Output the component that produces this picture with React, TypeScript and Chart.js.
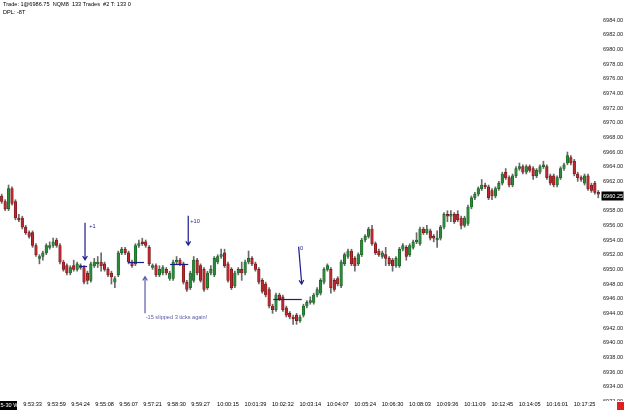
import React, { useEffect, useRef } from 'react';
import { Chart, registerables } from 'chart.js';

Chart.register(...registerables);

// ---- candle data (133-tick bars, NQM8) ----
const opens = [
  6960.0, 6959.25, 6958.25, 6961.0, 6959.25, 6957.0, 6957.0, 6955.75, 6955.0, 6955.0,
  6953.25, 6951.5, 6951.75, 6952.25, 6953.0, 6953.25, 6954.0, 6953.25, 6951.0, 6950.5,
  6949.5, 6950.5, 6950.0, 6950.5, 6950.25, 6949.5, 6948.5, 6950.5, 6950.75, 6951.0,
  6950.75, 6950.0, 6949.5, 6948.25, 6949.25, 6952.25, 6952.75, 6952.25, 6951.0, 6950.75,
  6953.25, 6953.75, 6953.75, 6953.0, 6950.25, 6950.5, 6949.25, 6949.5, 6950.0, 6948.75,
  6948.75, 6951.0, 6951.25, 6950.75, 6948.25, 6947.5, 6948.5, 6951.25, 6950.5, 6950.0,
  6947.5, 6949.5, 6949.25, 6951.0, 6951.75, 6952.25, 6950.75, 6950.0, 6947.75, 6949.5,
  6950.0, 6949.5, 6951.0, 6951.5, 6950.75, 6950.0, 6948.5, 6948.0, 6947.25, 6945.0,
  6944.5, 6946.5, 6946.25, 6944.75, 6944.0, 6943.5, 6943.75, 6943.0, 6943.75, 6945.0,
  6945.5, 6945.5, 6946.5, 6946.75, 6948.25, 6950.0, 6950.0, 6948.5, 6948.75, 6947.75,
  6950.75, 6951.75, 6952.5, 6951.5, 6950.75, 6952.0, 6954.0, 6954.5, 6955.5, 6953.5,
  6952.5, 6951.75, 6952.0, 6951.5, 6951.25, 6950.5, 6950.5, 6952.75, 6953.0, 6952.0,
  6953.0, 6953.75, 6953.5, 6955.5, 6955.0, 6955.25, 6954.5, 6954.0, 6954.25, 6955.75,
  6957.5, 6957.25, 6957.5, 6957.5, 6957.0, 6956.0, 6956.25, 6958.5, 6959.75, 6960.25,
  6961.0, 6961.5, 6961.25, 6960.75, 6960.0, 6961.0, 6961.75, 6963.25, 6962.5, 6961.5,
  6962.75, 6963.75, 6964.0, 6963.25, 6964.0, 6963.75, 6962.75, 6963.25, 6964.0, 6964.0,
  6962.75, 6962.75, 6961.5, 6962.5, 6963.75, 6964.5, 6965.25, 6964.75, 6963.0, 6962.5,
  6961.75, 6962.75, 6961.5, 6961.75, 6960.5,
];

const highs = [
  6960.25, 6959.5, 6961.5, 6961.25, 6959.5, 6957.5, 6957.25, 6956.0, 6955.25, 6955.25,
  6953.5, 6952.0, 6952.5, 6953.5, 6953.75, 6954.25, 6954.25, 6953.5, 6951.25, 6950.75,
  6950.5, 6951.25, 6951.0, 6950.75, 6950.5, 6949.75, 6951.0, 6951.5, 6951.75, 6952.25,
  6951.0, 6950.25, 6949.75, 6949.0, 6952.5, 6953.0, 6953.0, 6952.5, 6951.25, 6953.5,
  6954.0, 6954.25, 6954.0, 6953.25, 6950.75, 6950.75, 6950.5, 6950.5, 6950.25, 6949.75,
  6951.25, 6951.75, 6951.5, 6951.0, 6948.5, 6949.75, 6951.75, 6951.5, 6950.75, 6950.25,
  6949.75, 6950.5, 6951.75, 6952.0, 6952.75, 6952.75, 6951.0, 6950.25, 6949.75, 6950.25,
  6951.0, 6951.25, 6952.5, 6951.75, 6951.0, 6950.25, 6948.75, 6948.25, 6947.5, 6945.25,
  6946.75, 6946.75, 6946.5, 6945.0, 6944.25, 6943.75, 6944.0, 6943.75, 6945.25, 6945.75,
  6946.25, 6946.75, 6947.5, 6948.75, 6950.25, 6950.75, 6950.25, 6948.75, 6949.0, 6951.25,
  6952.25, 6952.75, 6952.75, 6951.75, 6952.25, 6954.25, 6954.75, 6955.75, 6956.0, 6953.75,
  6952.75, 6952.5, 6953.0, 6951.75, 6951.5, 6951.75, 6953.0, 6953.5, 6953.25, 6953.5,
  6954.0, 6955.0, 6955.75, 6955.75, 6956.0, 6955.5, 6954.75, 6955.25, 6956.0, 6957.75,
  6958.0, 6958.0, 6957.75, 6958.0, 6957.25, 6957.25, 6958.75, 6960.0, 6960.5, 6961.25,
  6962.25, 6961.75, 6961.5, 6961.0, 6961.25, 6962.0, 6963.25, 6963.75, 6962.75, 6963.0,
  6964.0, 6964.5, 6964.25, 6964.25, 6964.25, 6964.0, 6963.75, 6964.25, 6964.75, 6964.25,
  6963.0, 6963.0, 6962.75, 6964.0, 6964.5, 6966.0, 6965.5, 6965.0, 6963.25, 6962.75,
  6963.0, 6963.0, 6961.75, 6962.0, 6960.75,
];

const lows = [
  6959.0, 6958.0, 6958.0, 6958.75, 6956.75, 6956.5, 6955.5, 6954.75, 6954.25, 6953.0,
  6951.75, 6950.75, 6951.25, 6952.0, 6952.75, 6953.0, 6953.0, 6950.75, 6949.75, 6949.25,
  6949.25, 6949.75, 6949.75, 6950.0, 6948.0, 6948.0, 6948.25, 6950.25, 6950.25, 6949.75,
  6949.75, 6949.0, 6948.0, 6947.5, 6949.0, 6952.0, 6952.0, 6950.75, 6950.25, 6950.5,
  6953.0, 6953.25, 6953.0, 6950.5, 6950.0, 6949.0, 6949.0, 6949.25, 6949.25, 6948.5,
  6948.5, 6950.75, 6950.5, 6948.0, 6947.0, 6947.25, 6948.25, 6949.25, 6948.25, 6947.0,
  6947.25, 6949.25, 6949.0, 6950.75, 6951.5, 6950.25, 6948.25, 6947.25, 6947.5, 6949.25,
  6948.5, 6949.25, 6950.75, 6950.5, 6949.75, 6948.0, 6946.75, 6946.25, 6944.75, 6944.0,
  6944.25, 6945.75, 6944.25, 6943.5, 6943.25, 6942.5, 6942.5, 6942.75, 6943.5, 6944.75,
  6945.25, 6945.25, 6946.25, 6946.5, 6948.0, 6949.75, 6946.75, 6947.0, 6947.75, 6947.5,
  6950.5, 6951.5, 6950.5, 6949.75, 6950.5, 6951.75, 6953.75, 6954.25, 6953.25, 6952.0,
  6951.75, 6951.5, 6950.5, 6950.5, 6949.75, 6950.25, 6950.25, 6952.5, 6951.25, 6951.75,
  6952.75, 6953.5, 6953.25, 6954.75, 6954.75, 6954.0, 6953.75, 6953.0, 6954.0, 6955.5,
  6956.5, 6956.5, 6956.25, 6956.5, 6955.5, 6955.75, 6956.0, 6958.25, 6959.5, 6960.0,
  6960.75, 6961.0, 6959.5, 6959.5, 6959.75, 6960.75, 6961.5, 6962.25, 6961.25, 6961.25,
  6962.5, 6963.5, 6963.0, 6963.0, 6963.25, 6962.25, 6962.5, 6963.0, 6963.75, 6962.25,
  6961.5, 6961.25, 6961.25, 6962.25, 6963.5, 6964.25, 6964.25, 6962.75, 6962.0, 6962.0,
  6961.5, 6960.75, 6960.5, 6960.25, 6959.75,
];

const closes = [
  6959.25, 6958.25, 6961.0, 6959.0, 6957.0, 6956.75, 6955.75, 6955.0, 6954.5, 6953.25,
  6952.0, 6951.75, 6952.25, 6953.25, 6953.25, 6953.75, 6953.25, 6951.0, 6950.0, 6949.5,
  6950.25, 6950.0, 6950.75, 6950.25, 6948.25, 6948.5, 6950.75, 6951.0, 6951.0, 6950.5,
  6950.0, 6949.25, 6949.0, 6948.75, 6952.25, 6952.75, 6952.25, 6951.0, 6950.5, 6953.25,
  6953.5, 6953.5, 6953.25, 6950.75, 6950.5, 6949.25, 6950.0, 6950.25, 6949.5, 6949.5,
  6951.0, 6951.25, 6950.75, 6948.25, 6947.25, 6949.5, 6951.25, 6949.5, 6948.5, 6947.25,
  6949.5, 6950.0, 6951.5, 6951.75, 6952.0, 6950.5, 6948.5, 6947.5, 6949.5, 6950.0,
  6949.5, 6951.0, 6951.5, 6950.75, 6950.0, 6948.25, 6947.0, 6946.5, 6945.0, 6944.5,
  6946.5, 6946.0, 6944.5, 6943.75, 6943.5, 6943.25, 6943.0, 6943.5, 6945.0, 6945.5,
  6945.75, 6946.5, 6947.25, 6948.5, 6950.0, 6950.5, 6947.5, 6947.25, 6948.0, 6951.0,
  6952.0, 6952.5, 6950.75, 6950.5, 6952.0, 6954.0, 6954.5, 6955.5, 6953.5, 6952.25,
  6952.0, 6952.25, 6951.5, 6950.75, 6950.5, 6951.5, 6952.75, 6953.25, 6951.75, 6953.25,
  6953.75, 6954.0, 6955.5, 6955.0, 6955.5, 6954.25, 6954.25, 6954.25, 6955.75, 6957.5,
  6957.25, 6957.5, 6956.5, 6956.75, 6956.0, 6957.0, 6958.5, 6959.75, 6960.25, 6961.0,
  6961.5, 6961.25, 6959.75, 6960.0, 6961.0, 6961.75, 6963.0, 6962.5, 6961.5, 6962.75,
  6963.75, 6964.0, 6963.25, 6964.0, 6963.5, 6962.75, 6963.5, 6964.0, 6964.25, 6962.5,
  6961.75, 6961.5, 6962.5, 6963.75, 6964.25, 6965.5, 6964.5, 6963.0, 6962.5, 6962.25,
  6962.75, 6961.0, 6960.75, 6960.5, 6960.25,
];

// ---- axis tick labels ----
const timeTickIndex = [9, 16, 23, 30, 37, 44, 51, 58, 66, 74, 82, 90, 98, 106, 114, 122, 130, 138, 146, 154, 162, 170];
const timeTickLabels = [
  '9:53:33', '9:53:59', '9:54:24', '9:55:08', '9:56:07', '9:57:21', '9:58:30', '9:59:27',
  '10:00:15', '10:01:39', '10:02:32', '10:03:14', '10:04:07', '10:05:24', '10:06:30', '10:08:03',
  '10:09:36', '10:11:09', '10:12:45', '10:14:05', '10:16:01', '10:17:25',
];
const priceTicks = [
  6934, 6936, 6938, 6940, 6942, 6944, 6946, 6948, 6950, 6952, 6954, 6956, 6958,
  6960, 6962, 6964, 6966, 6968, 6970, 6972, 6974, 6976, 6978, 6980, 6982, 6984,
];
const hiddenEdgeTick = 6932;
const lastPrice = 6960.25;
const headerLines = ['Trade: 1@6986.75  NQM8  133 Trades  #2 T: 133 0', 'DPL: -8T'];
const dateLabel = '5-30 We';

// ---- trade annotations (bar index, price) ----
const tradeArrows = [
  { x0: 24.3, p0: 6956.35, x1: 24.3, p1: 6951.3, text: '+1', tx: 25.5, tp: 6955.8, light: false },
  { x0: 41.8, p0: 6944.0, x1: 41.8, p1: 6949.0, text: '-15 slipped 3 ticks again!', tx: 42.0, tp: 6943.4, light: true },
  { x0: 54.4, p0: 6957.3, x1: 54.4, p1: 6953.3, text: '+10', tx: 55.0, tp: 6956.6, light: false },
  { x0: 86.6, p0: 6953.1, x1: 87.5, p1: 6948.0, text: '0', tx: 87.0, tp: 6952.8, light: false },
];
const entryLines = [
  { x0: 22.8, x1: 24.9, p: 6950.5 },
  { x0: 36.9, x1: 41.5, p: 6951.0 },
  { x0: 49.1, x1: 54.4, p: 6950.7 },
  { x0: 79.2, x1: 87.5, p: 6945.95 },
];

const FONT = '"Liberation Sans", Arial, sans-serif';
const FS = 5.6;
const UP = '#2b8a3a';
const UP_BORDER = '#145a1f';
const DOWN = '#b8282c';
const DOWN_BORDER = '#6a1216';
const WICK = '#6a6a6a';
const NAVY = '#1c1c8c';
const NAVY_LIGHT = '#5a5aa8';

const overlayPlugin = {
  id: 'tradeOverlay',
  afterDatasetsDraw(chart: any) {
    const { ctx, scales } = chart;
    const x = scales.x;
    const y = scales.y;
    ctx.save();
    ctx.lineWidth = 1.2;
    ctx.strokeStyle = NAVY;
    entryLines.forEach((l) => {
      const yy = Math.round(y.getPixelForValue(l.p)) + 0.5;
      ctx.beginPath();
      ctx.moveTo(x.getPixelForValue(l.x0), yy);
      ctx.lineTo(x.getPixelForValue(l.x1), yy);
      ctx.stroke();
    });
    ctx.font = `${FS}px ${FONT}`;
    ctx.textBaseline = 'middle';
    ctx.textAlign = 'left';
    tradeArrows.forEach((a) => {
      const col = a.light ? NAVY_LIGHT : NAVY;
      const X0 = x.getPixelForValue(a.x0);
      const Y0 = y.getPixelForValue(a.p0);
      const X1 = x.getPixelForValue(a.x1);
      const Y1 = y.getPixelForValue(a.p1);
      ctx.strokeStyle = col;
      ctx.lineWidth = 1.2;
      ctx.beginPath();
      ctx.moveTo(X0, Y0);
      ctx.lineTo(X1, Y1);
      const ang = Math.atan2(Y1 - Y0, X1 - X0);
      const L = 4.5;
      ctx.moveTo(X1 - L * Math.cos(ang - 0.55), Y1 - L * Math.sin(ang - 0.55));
      ctx.lineTo(X1, Y1);
      ctx.lineTo(X1 - L * Math.cos(ang + 0.55), Y1 - L * Math.sin(ang + 0.55));
      ctx.stroke();
      ctx.fillStyle = col;
      ctx.fillText(a.text, x.getPixelForValue(a.tx), y.getPixelForValue(a.tp));
    });
    ctx.restore();
  },
  afterDraw(chart: any) {
    const { ctx, scales, chartArea, width, height } = chart;
    const y = scales.y;
    ctx.save();
    ctx.font = `${FS}px ${FONT}`;
    // header text
    ctx.fillStyle = '#000';
    ctx.textAlign = 'left';
    ctx.textBaseline = 'middle';
    headerLines.forEach((t, i) => ctx.fillText(t, 3, 4.5 + i * 8));
    // partially hidden bottom price label
    ctx.save();
    ctx.beginPath();
    ctx.rect(chartArea.right, 0, width - chartArea.right, chartArea.bottom + 3);
    ctx.clip();
    ctx.fillStyle = '#222';
    ctx.fillText(hiddenEdgeTick.toFixed(2), chartArea.right + 3, y.getPixelForValue(hiddenEdgeTick));
    ctx.restore();
    // last price box
    const py = y.getPixelForValue(lastPrice) + 2;
    ctx.fillStyle = '#000';
    ctx.fillRect(chartArea.right + 1.5, Math.round(py) - 4.5, 22, 9);
    ctx.fillStyle = '#fff';
    ctx.fillText(lastPrice.toFixed(2), chartArea.right + 3, py);
    // date label box
    ctx.fillStyle = '#000';
    ctx.fillRect(0, chartArea.bottom + 3, 17, 9);
    ctx.fillStyle = '#fff';
    ctx.fillText(dateLabel, 0.5, chartArea.bottom + 7.5);
    // red square bottom right
    ctx.fillStyle = '#e0201e';
    ctx.fillRect(width - 8, height - 9, 7, 8);
    ctx.restore();
  },
};

export default function App() {
  const ref = useRef<HTMLCanvasElement>(null);
  useEffect(() => {
    document.body.style.margin = '0';
    const canvas = ref.current;
    if (!canvas) return;
    const labels = closes.map((_, i) => String(i));
    const tickMap = new Map<number, string>(timeTickIndex.map((idx, k) => [idx, timeTickLabels[k]]));
    const bodyColors = closes.map((c, i) => (c >= opens[i] ? UP : DOWN));
    const bodyBorders = closes.map((c, i) => (c >= opens[i] ? UP_BORDER : DOWN_BORDER));
    const chart = new Chart(canvas, {
      type: 'bar',
      data: {
        labels,
        datasets: [
          {
            label: 'body',
            data: opens.map((o, i) => [o, closes[i]]) as any,
            backgroundColor: bodyColors,
            borderColor: bodyBorders,
            borderWidth: 0.6,
            borderSkipped: false,
            barThickness: 2.6,
            minBarLength: 1,
            grouped: false,
            order: 0,
          } as any,
          {
            label: 'wick',
            data: lows.map((l, i) => [l, highs[i]]) as any,
            backgroundColor: WICK,
            borderWidth: 0,
            barThickness: 1,
            grouped: false,
            order: 1,
          } as any,
        ],
      },
      options: {
        responsive: false,
        animation: false,
        events: [],
        layout: { padding: 0, autoPadding: false } as any,
        plugins: { legend: { display: false }, tooltip: { enabled: false } },
        scales: {
          x: {
            type: 'category',
            offset: true,
            grid: { display: false, drawTicks: false },
            border: { display: false },
            ticks: {
              autoSkip: false,
              maxRotation: 0,
              minRotation: 0,
              padding: 3,
              color: '#000',
              font: { family: FONT, size: FS },
              callback: (_v: any, i: number) => tickMap.get(i) ?? '',
            },
            afterFit: (s: any) => {
              s.height = 13;
              s.paddingLeft = 0;
              s.paddingRight = 0;
            },
          },
          y: {
            position: 'right',
            min: 6932.46,
            max: 6986.73,
            grid: { display: false, drawTicks: false },
            border: { display: false },
            ticks: {
              padding: 3,
              color: '#222',
              font: { family: FONT, size: FS },
              callback: (v: any) => Number(v).toFixed(2),
            },
            afterBuildTicks: (s: any) => {
              s.ticks = priceTicks.map((v) => ({ value: v }));
            },
            afterFit: (s: any) => {
              s.width = 25;
              s.paddingTop = 0;
              s.paddingBottom = 0;
            },
          },
        },
      } as any,
      plugins: [overlayPlugin],
    });
    return () => chart.destroy();
  }, []);
  return (
    <div style={{ width: 625, height: 411, background: '#fff' }}>
      <canvas ref={ref} width={625} height={411} />
    </div>
  );
}
